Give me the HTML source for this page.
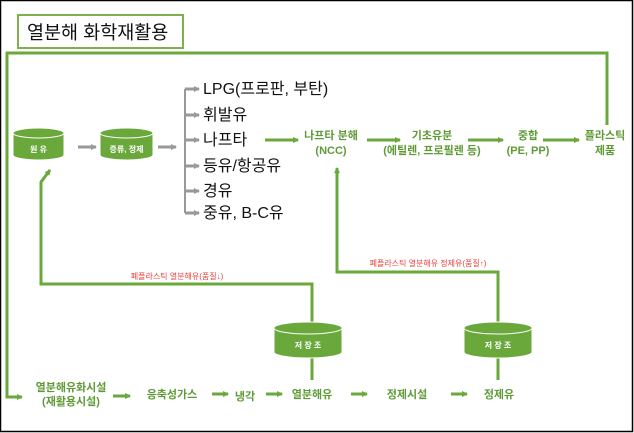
<!DOCTYPE html>
<html><head><meta charset="utf-8"><style>
body{margin:0;background:#fff}
svg{display:block}
text{font-family:"Liberation Sans","Noto Sans CJK KR",sans-serif}
</style></head><body>
<svg width="634" height="433" viewBox="0 0 634 433" xmlns="http://www.w3.org/2000/svg">
<defs>
<marker id="g" markerWidth="6" markerHeight="6" refX="5" refY="3" orient="auto" markerUnits="userSpaceOnUse"><path d="M0,0 L6,3 L0,6 z" fill="#6aa83c"/></marker>
<marker id="gr" markerWidth="6" markerHeight="6" refX="5" refY="3" orient="auto" markerUnits="userSpaceOnUse"><path d="M0,0 L6,3 L0,6 z" fill="#999"/></marker>
</defs>
<rect x="0.5" y="0.5" width="632" height="431" fill="#fff" stroke="#000" stroke-width="1.5"/>
<rect x="18" y="15" width="165" height="33" fill="#fff" stroke="#7fb04c" stroke-width="2"/>
<text x="27" y="39" font-size="18.5" fill="#111">열분해 화학재활용</text>
<g fill="none" stroke="#6aa83c" stroke-width="3">
<polyline points="607,125 607,53 7,53 7,397 22,397" marker-end="url(#g)"/>
<polyline points="312,322 312,284 41,284 41,182 50,170" marker-end="url(#g)"/>
<polyline points="498,322 498,272 337,272 337,168" marker-end="url(#g)"/>
<line x1="312" y1="357" x2="312" y2="380"/>
<line x1="498" y1="357" x2="498" y2="380"/>
<line x1="265" y1="140" x2="298" y2="140" marker-end="url(#g)"/>
<line x1="367" y1="140" x2="400" y2="140" marker-end="url(#g)"/>
<line x1="468" y1="140" x2="503" y2="140" marker-end="url(#g)"/>
<line x1="543" y1="140" x2="579" y2="140" marker-end="url(#g)"/>
<line x1="113" y1="396" x2="130" y2="396" marker-end="url(#g)"/>
<line x1="212" y1="394" x2="228" y2="394" marker-end="url(#g)"/>
<line x1="266" y1="394" x2="282" y2="394" marker-end="url(#g)"/>
<line x1="351" y1="394" x2="367" y2="394" marker-end="url(#g)"/>
<line x1="451" y1="394" x2="467" y2="394" marker-end="url(#g)"/>
</g>
<g fill="none" stroke="#999" stroke-width="3">
<line x1="78" y1="147" x2="96" y2="147" marker-end="url(#gr)"/>
<line x1="158" y1="147" x2="176" y2="147" marker-end="url(#gr)"/>
<line x1="185" y1="89" x2="185" y2="213" stroke-width="2"/>
<line x1="185" y1="89" x2="199" y2="89" marker-end="url(#gr)"/>
<line x1="185" y1="115" x2="199" y2="115" marker-end="url(#gr)"/>
<line x1="185" y1="140" x2="199" y2="140" marker-end="url(#gr)"/>
<line x1="185" y1="166" x2="199" y2="166" marker-end="url(#gr)"/>
<line x1="185" y1="191" x2="199" y2="191" marker-end="url(#gr)"/>
<line x1="185" y1="213" x2="199" y2="213" marker-end="url(#gr)"/>
</g>
<g fill="#6aa83c" stroke="#fff" stroke-width="1">
<path d="M13,133 v22 a25.5,5 0 0 0 51,0 v-22 z"/><ellipse cx="38.5" cy="133" rx="25.5" ry="5"/>
<path d="M100,133 v22 a26.5,5 0 0 0 53,0 v-22 z"/><ellipse cx="126.5" cy="133" rx="26.5" ry="5"/>
<path d="M274,328 v24 a34,6 0 0 0 68,0 v-24 z"/><ellipse cx="308" cy="328" rx="34" ry="6"/>
<path d="M464,328 v24 a34,6 0 0 0 68,0 v-24 z"/><ellipse cx="498" cy="328" rx="34" ry="6"/>
</g>
<g fill="#fff" font-size="8" font-weight="bold" text-anchor="middle">
<text x="38.5" y="152">원 유</text>
<text x="126.5" y="152">증류, 정제</text>
<text x="308" y="348">저 장 조</text>
<text x="498" y="348">저 장 조</text>
</g>
<g font-size="16" fill="#111">
<text x="203" y="94">LPG(프로판, 부탄)</text>
<text x="203" y="120">휘발유</text>
<text x="203" y="145">나프타</text>
<text x="203" y="171">등유/항공유</text>
<text x="203" y="196">경유</text>
<text x="203" y="218">중유, B-C유</text>
</g>
<g font-size="11" font-weight="bold" fill="#5e9a35" text-anchor="middle">
<text x="331" y="139">나프타 분해</text><text x="331" y="154">(NCC)</text>
<text x="432" y="139">기초유분</text><text x="432" y="154">(에틸렌, 프로필렌 등)</text>
<text x="528" y="139">중합</text><text x="528" y="154">(PE, PP)</text>
<text x="605" y="139">플라스틱</text><text x="605" y="154">제품</text>
<text x="71" y="391">열분해유화시설</text><text x="71" y="405">(재활용시설)</text>
<text x="172" y="398">응축성가스</text>
<text x="245" y="400">냉각</text>
<text x="312" y="398">열분해유</text>
<text x="407" y="398">정제시설</text>
<text x="499" y="398">정제유</text>
</g>
<g font-size="8" fill="#e8403a" text-anchor="middle">
<text x="177" y="279">폐플라스틱 열분해유(품질↓)</text>
<text x="428" y="266">폐플라스틱 열분해유 정제유(품질↑)</text>
</g>
</svg>
</body></html>
